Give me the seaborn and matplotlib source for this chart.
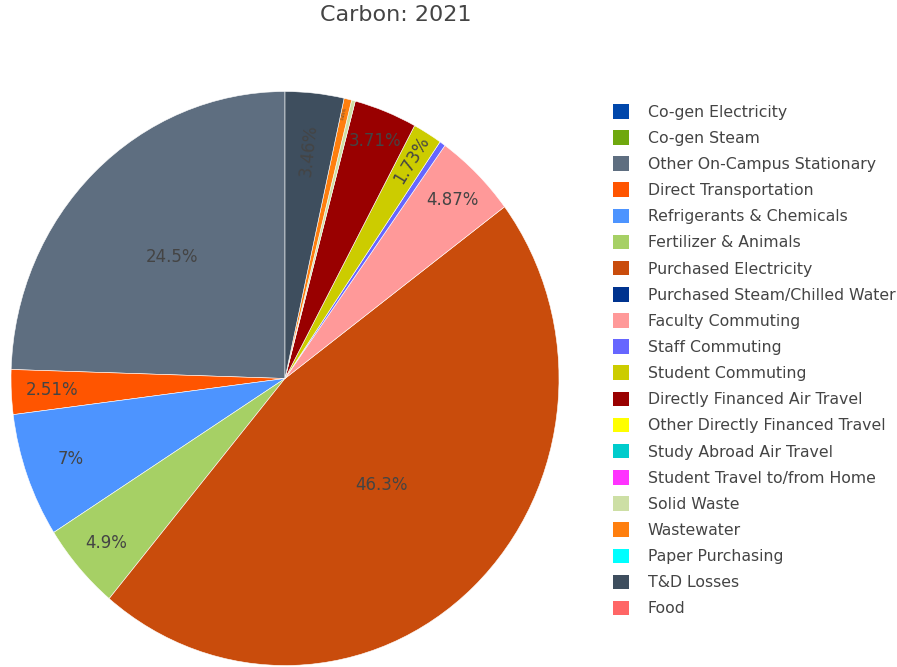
import numpy as np
import matplotlib
import matplotlib.pyplot as plt
from matplotlib.patches import Patch
import seaborn as sns

# Data
categories = [
    "Co-gen Electricity",
    "Co-gen Steam",
    "Other On-Campus Stationary",
    "Direct Transportation",
    "Refrigerants & Chemicals",
    "Fertilizer & Animals",
    "Purchased Electricity",
    "Purchased Steam/Chilled Water",
    "Faculty Commuting",
    "Staff Commuting",
    "Student Commuting",
    "Directly Financed Air Travel",
    "Other Directly Financed Travel",
    "Study Abroad Air Travel",
    "Student Travel to/from Home",
    "Solid Waste",
    "Wastewater",
    "Paper Purchasing",
    "T&D Losses",
    "Food",
]
shares = [0, 0, 24.5, 2.51, 7.0, 4.9, 46.3, 0, 4.87, 0.35, 1.73, 3.71,
          0, 0, 0, 0.22, 0.45, 0, 3.46, 0]
pct_labels = ["", "", "24.5%", "2.51%", "7%", "4.9%", "46.3%", "", "4.87%", "",
              "1.73%", "3.71%", "", "", "", "", "0.45%", "", "3.46%", ""]

colors = ["#0047ab", "#6fa80e", "#5e6e80", "#ff5500", "#4d94ff", "#a6d065",
          "#c94c0c", "#00338f", "#ff9999", "#6666ff", "#cccc00", "#990000",
          "#ffff00", "#00cccc", "#ff33ff", "#cddfa5", "#ff7f0e", "#00ffff",
          "#3e4e5e", "#ff6666"]

# label placement (fraction of radius); some labels run along the radius
label_r = {2: 0.59, 3: 0.85, 4: 0.83, 5: 0.87, 6: 0.51, 8: 0.87,
           10: 0.89, 11: 0.89, 16: 0.95, 18: 0.80}
radial = {10, 16, 18}

sns.set_theme(style="white")
matplotlib.rcParams["font.family"] = ["DejaVu Sans"]
TXT = "#444444"

W, H = 897, 667
fig = plt.figure(figsize=(W / 100, H / 100), dpi=100)

# pie occupies an ellipse: centre (285, 378.5), half axes 274 x 287 px
cx, cy, rx, ry = 285, 378.5, 274, 287
ax = fig.add_axes([(cx - rx) / W, (H - cy - ry) / H, 2 * rx / W, 2 * ry / H])

idx = [i for i, v in enumerate(shares) if v > 0]
wedges, _ = ax.pie(
    [shares[i] for i in idx],
    colors=[colors[i] for i in idx],
    startangle=90,
    counterclock=True,
    wedgeprops={"edgecolor": "white", "linewidth": 0.4},
)
ax.set_aspect("auto")
ax.set_xlim(-1, 1)
ax.set_ylim(-1, 1)

for w, i in zip(wedges, idx):
    if not pct_labels[i]:
        continue
    mid = np.deg2rad((w.theta1 + w.theta2) / 2)
    r = label_r.get(i, 0.8)
    rot = (np.rad2deg(mid) % 360) if i in radial else 0
    size = 3 if i == 16 else 12
    ax.text(r * np.cos(mid), r * np.sin(mid), pct_labels[i],
            ha="center", va="center", rotation=rot, rotation_mode="anchor",
            fontsize=size, color=TXT)

fig.text(396 / W, 1 - 15 / H, "Carbon: 2021", ha="center", va="center",
         fontsize=16, color=TXT)

handles = [Patch(facecolor=c, edgecolor="none") for c in colors]
fig.legend(
    handles,
    categories,
    loc="upper left",
    bbox_to_anchor=(613 / W, 1 - 104 / H),
    frameon=False,
    fontsize=11.3,
    labelcolor=TXT,
    handlelength=1.05,
    handleheight=1.05,
    handletextpad=1.15,
    labelspacing=0.67,
    borderpad=0,
    borderaxespad=0,
)

plt.savefig("out.png", dpi=100)
